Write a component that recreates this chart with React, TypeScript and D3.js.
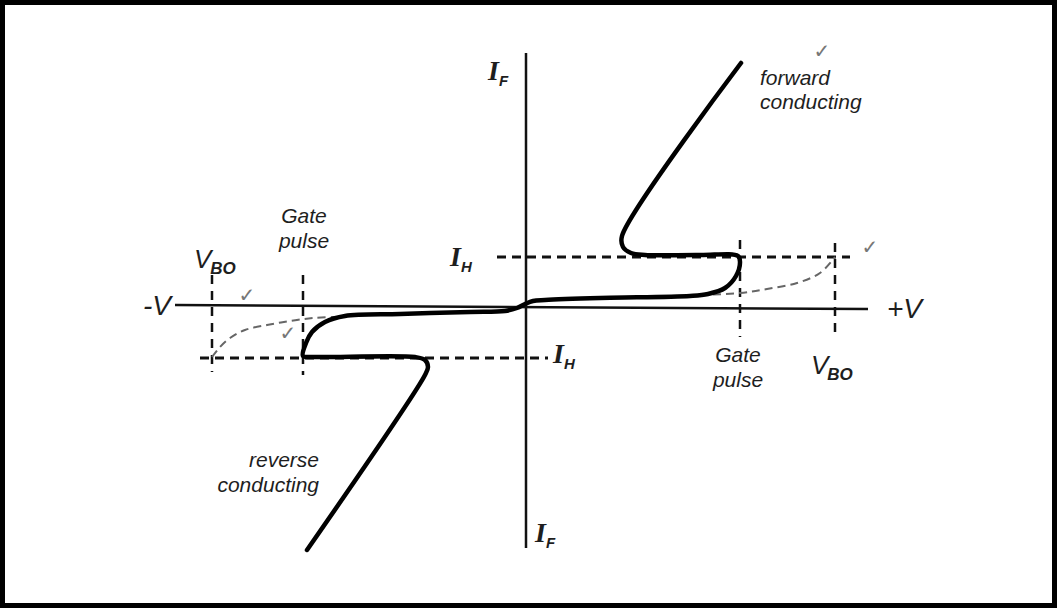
import React from "react";
import * as d3 from "d3";

// Diagram units: x = voltage (px-like units, 0 = origin), y = current (up positive)
const mainCurve: [number, number][] = [
  [216, 242], [97, 69], [98, 58], [106, 52], [120, 50], [175, 50], [213, 49],
  [215, 43], [211, 29], [200, 17], [183, 11], [165, 9], [75, 7], [20, 5], [8, 4],
  [0, 1], [-8, -3], [-20, -6], [-55, -7], [-125, -9], [-180, -11], [-200, -17],
  [-213, -27], [-219, -38], [-222, -51], [-213, -52], [-110, -52], [-100, -55],
  [-97, -62], [-100, -70], [-218, -245],
];
const offStateRight: [number, number][] = [
  [175, 10], [215, 12], [242, 16], [272, 22], [295, 32], [310, 48],
];
const offStateLeft: [number, number][] = [
  [-313, -52], [-305, -42], [-295, -33], [-280, -25], [-258, -20], [-235, -16], [-212, -13], [-190, -12],
];
const vAxis: [number, number][] = [[1, 252], [1, -243]];
const hAxis: [number, number][] = [[-350, 0], [343, -4]];
const holdUpper: [number, number][] = [[-28, 48], [325, 48]];
const holdLower: [number, number][] = [[-325, -53], [23, -53]];
const gateRight: [number, number][] = [[215, 65], [215, -32]];
const vboRight: [number, number][] = [[310, 62], [310, -32]];
const vboLeft: [number, number][] = [[-313, 30], [-313, -67]];
const gateLeft: [number, number][] = [[-222, 30], [-222, -70]];

const checks: [number, number][] = [[297, 247], [345, 51], [-278, 3], [-237, -35]];

export default function App() {
  const W = 1060, H = 610;
  const x = d3.scaleLinear().domain([-350, 350]).range([175, 875]);
  const y = d3.scaleLinear().domain([-250, 250]).range([555, 55]);
  const smooth = d3.line<[number, number]>().x(d => x(d[0])).y(d => y(d[1])).curve(d3.curveCatmullRom.alpha(0.5));
  const straight = d3.line<[number, number]>().x(d => x(d[0])).y(d => y(d[1]));
  const txt = "#1e1e1e";
  const sans = "'Liberation Sans', Arial, sans-serif";
  const serif = "'Liberation Serif', 'Times New Roman', serif";
  const dashBlack = { stroke: "#111", strokeWidth: 3, strokeDasharray: "9 6", fill: "none" } as const;
  const dashV = { stroke: "#111", strokeWidth: 2.5, strokeDasharray: "9 7", fill: "none" } as const;

  const sub = (bx: number, by: number, main: string, s: string, fam: string, size: number, subSize: number, dx: number, bold: boolean) => (
    <text x={bx} y={by} fill={txt} fontFamily={fam} fontStyle="italic" fontWeight={bold ? "bold" : "normal"} fontSize={size}>
      {main}
      <tspan dx={dx} dy={6} fontFamily={sans} fontWeight="bold" fontSize={subSize}>{s}</tspan>
    </text>
  );

  return (
    <svg width={W} height={H} style={{ position: "absolute", left: 0, top: 0, background: "#fff" }}>
      <rect x={2.5} y={2.5} width={1052} height={603} fill="#fff" stroke="#000" strokeWidth={5} />
      {/* axes */}
      <path d={straight(vAxis)!} stroke="#111" strokeWidth={2.5} fill="none" />
      <path d={straight(hAxis)!} stroke="#111" strokeWidth={2.5} fill="none" />
      {/* dashed reference lines */}
      <path d={straight(holdUpper)!} {...dashBlack} />
      <path d={straight(holdLower)!} {...dashBlack} />
      <path d={straight(gateRight)!} {...dashV} />
      <path d={straight(vboRight)!} {...dashV} />
      <path d={straight(vboLeft)!} {...dashV} />
      <path d={straight(gateLeft)!} {...dashV} />
      {/* off-state curves without gate */}
      <path d={smooth(offStateRight)!} stroke="#666" strokeWidth={2} strokeDasharray="8 5" fill="none" />
      <path d={smooth(offStateLeft)!} stroke="#666" strokeWidth={2} strokeDasharray="8 5" fill="none" />
      {/* main characteristic */}
      <path d={smooth(mainCurve)!} stroke="#000" strokeWidth={4.5} fill="none" strokeLinejoin="round" strokeLinecap="round" />
      {/* check marks */}
      {checks.map((c, i) => (
        <text key={i} x={x(c[0])} y={y(c[1])} fill="#777" fontSize={20} fontWeight="bold" fontFamily="'DejaVu Sans'" textAnchor="middle">✓</text>
      ))}
      {/* labels */}
      {sub(488, 80, "I", "F", serif, 28, 15, 0, true)}
      {sub(450, 266, "I", "H", serif, 28, 15, 0, true)}
      {sub(553, 363, "I", "H", serif, 28, 15, 0, true)}
      {sub(535, 542, "I", "F", serif, 28, 15, 0, true)}
      <text x={143} y={315} fill={txt} fontFamily={sans} fontStyle="italic" fontSize={28}>-V</text>
      <text x={887} y={318} fill={txt} fontFamily={sans} fontStyle="italic" fontSize={28}>+V</text>
      {sub(194, 268, "V", "BO", sans, 26, 17, -1, false)}
      {sub(811, 374, "V", "BO", sans, 26, 17, -1, false)}
      <text x={304} y={223} fill={txt} fontFamily={sans} fontStyle="italic" fontSize={21} textAnchor="middle">Gate</text>
      <text x={304} y={248} fill={txt} fontFamily={sans} fontStyle="italic" fontSize={21} textAnchor="middle">pulse</text>
      <text x={738} y={362} fill={txt} fontFamily={sans} fontStyle="italic" fontSize={21} textAnchor="middle">Gate</text>
      <text x={738} y={387} fill={txt} fontFamily={sans} fontStyle="italic" fontSize={21} textAnchor="middle">pulse</text>
      <text x={760} y={85} fill={txt} fontFamily={sans} fontStyle="italic" fontSize={21}>forward</text>
      <text x={760} y={109} fill={txt} fontFamily={sans} fontStyle="italic" fontSize={21}>conducting</text>
      <text x={319} y={467} fill={txt} fontFamily={sans} fontStyle="italic" fontSize={21} textAnchor="end">reverse</text>
      <text x={319} y={492} fill={txt} fontFamily={sans} fontStyle="italic" fontSize={21} textAnchor="end">conducting</text>
    </svg>
  );
}
